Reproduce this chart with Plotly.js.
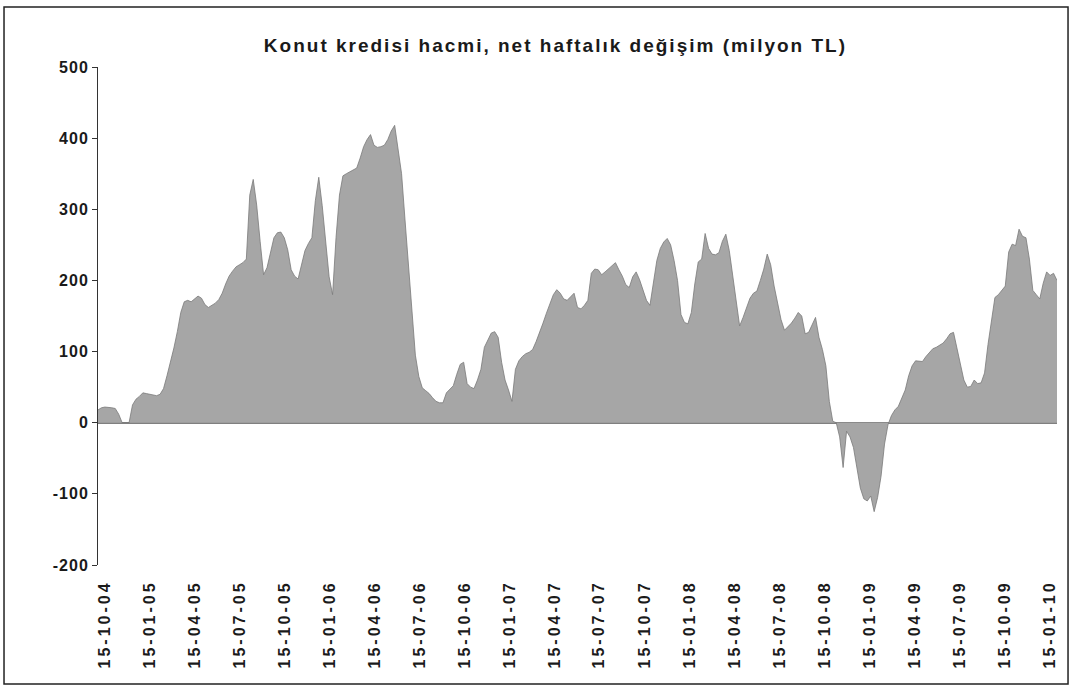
<!DOCTYPE html>
<html>
<head>
<meta charset="utf-8">
<script src="https://cdn.plot.ly/plotly-3.0.1.min.js"></script>
<style>
html,body{margin:0;padding:0;background:#fff;}
#chart{width:1074px;height:690px;}
#chart .xtick text{letter-spacing:3px;}
#chart .ytick text{letter-spacing:1px;}
#chart .gtitle{letter-spacing:2px;}
</style>
</head>
<body>
<div id="chart"></div>
<script>
// Weekly series start (Friday) and values
var startDate = '2004-10-01';
var weeklyChange = [
 18,21,22,22,21,20,12,0,0,0,
 25,33,37,42,41,40,38,38,40,48,
 66,85,105,128,155,170,172,170,174,178,
 175,166,162,165,168,173,182,195,206,213,
 219,222,225,230,320,342,306,255,208,218,
 240,260,267,268,260,243,215,206,202,220,
 242,252,260,312,345,305,255,205,180,260,
 320,347,350,353,356,358,372,388,398,405,
 390,387,388,390,398,410,418,385,350,285,
 220,148,95,65,49,45,41,35,30,28,
 28,42,47,52,68,82,85,55,50,48,
 60,75,106,117,126,128,120,85,60,46,
 30,75,87,93,97,99,103,114,126,140,
 154,168,180,187,182,174,172,177,182,162,
 160,165,172,210,216,215,208,212,216,221,
 225,215,206,194,190,205,212,201,185,172,
 165,200,228,245,254,259,250,228,200,152,
 141,139,155,195,226,230,266,245,237,236,
 239,255,265,242,205,165,136,148,162,175,
 182,185,200,216,237,222,192,170,145,130,
 135,140,147,155,150,125,127,138,148,120,
 103,80,30,2,0,-20,-63,-12,-20,-35,
 -63,-92,-107,-110,-103,-125,-105,-75,-30,-3,
 10,18,23,35,46,66,80,87,86,86,
 93,99,104,106,109,112,118,125,127,106,
 82,60,50,51,60,55,56,70,110,145,
 176,180,186,192,240,251,249,272,262,260,
 230,186,180,174,196,212,207,210,200
];
var tickDates = ['2004-10-15','2005-01-15','2005-04-15','2005-07-15','2005-10-15','2006-01-15','2006-04-15','2006-07-15','2006-10-15','2007-01-15','2007-04-15','2007-07-15','2007-10-15','2008-01-15','2008-04-15','2008-07-15','2008-10-15','2009-01-15','2009-04-15','2009-07-15','2009-10-15','2010-01-15'];
var tickLabels = ['15-10-04','15-01-05','15-04-05','15-07-05','15-10-05','15-01-06','15-04-06','15-07-06','15-10-06','15-01-07','15-04-07','15-07-07','15-10-07','15-01-08','15-04-08','15-07-08','15-10-08','15-01-09','15-04-09','15-07-09','15-10-09','15-01-10'];
var yTicks = [-200,-100,0,100,200,300,400,500];
var yTickLabels = ['-200','-100','0','100','200','300','400','500'];
var chartTitle = 'Konut kredisi hacmi, net haftalık değişim (milyon TL)';

var dates = [];
var d0 = new Date(startDate + 'T00:00:00Z');
for (var i = 0; i < weeklyChange.length; i++) {
  var d = new Date(d0.getTime() + i * 7 * 86400000);
  dates.push(d.toISOString().slice(0,10));
}

var font = {family:'Liberation Sans, Arial, sans-serif', color:'#1a1a1a', weight:'bold'};

var trace = {
  x: dates, y: weeklyChange, type:'scatter', mode:'lines',
  fill:'tozeroy', fillcolor:'#a6a6a6',
  line:{color:'#7a7a7a', width:0.8}, hoverinfo:'x+y'
};

var layout = {
  width:1074, height:690,
  margin:{l:98, r:17, t:67, b:125},
  paper_bgcolor:'#ffffff', plot_bgcolor:'#ffffff',
  showlegend:false,
  title:{text:chartTitle, x:0.477, xref:'paper', xanchor:'center', y:0.935, yref:'container', yanchor:'middle',
         font:Object.assign({}, font, {size:19})},
  xaxis:{type:'date', range:[dates[0], dates[dates.length-1]],
         tickvals:tickDates, ticktext:tickLabels, tickangle:-90,
         ticks:'outside', ticklen:8, tickcolor:'rgba(0,0,0,0)',
         showgrid:false, zeroline:false, showline:false,
         tickfont:Object.assign({}, font, {size:16})},
  yaxis:{range:[-200,500], tickvals:yTicks, ticktext:yTickLabels, ticks:'outside', ticklen:5, tickcolor:'#333',
         showline:true, linecolor:'#333', linewidth:1,
         showgrid:false, zeroline:true, zerolinecolor:'#808080', zerolinewidth:2,
         tickfont:Object.assign({}, font, {size:16})},
  shapes:[{type:'rect', xref:'paper', yref:'paper', x0:-0.098, x1:1.0115, y0:-0.239, y1:1.1205,
           line:{color:'#222', width:1.5}, fillcolor:'rgba(0,0,0,0)', layer:'below'}]
};

Plotly.newPlot('chart', [trace], layout, {displayModeBar:false, staticPlot:true});
</script>
</body>
</html>
